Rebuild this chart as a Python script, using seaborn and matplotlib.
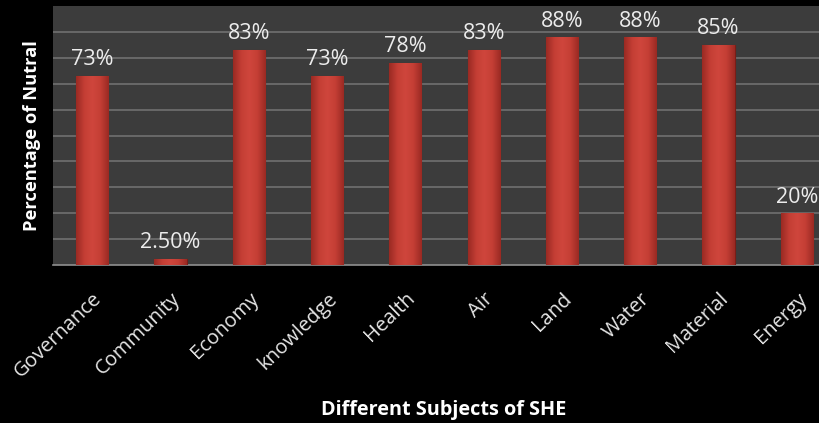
import numpy as np
import matplotlib.pyplot as plt
import seaborn as sns
import pandas as pd
from matplotlib.colors import LinearSegmentedColormap

subjects = ["Governance", "Community", "Economy", "knowledge", "Health",
            "Air", "Land", "Water", "Material", "Energy"]
percent = [73, 2.5, 83, 73, 78, 83, 88, 88, 85, 20]
bar_labels = ["73%", "2.50%", "83%", "73%", "78%", "83%", "88%", "88%", "85%", "20%"]

df = pd.DataFrame({"subject": subjects, "percent": percent})

sns.set_style("dark")
plt.rcParams['font.family'] = ['Open Sans', 'DejaVu Sans']

fig = plt.figure(figsize=(8.2, 4.23), dpi=100, facecolor="black")
ax = fig.add_axes([53/820, 158/423, 783/820, 259/423])
ax.set_facecolor("#3c3c3c")

sns.barplot(data=df, x="subject", y="percent", color="#c8423a", width=0.41,
            edgecolor="#7a1d17", linewidth=0.8, saturation=1, ax=ax, zorder=3)

# shading across each bar to mimic the bevelled look
shade = LinearSegmentedColormap.from_list(
    "shade", ["#9a2a23", "#c43e35", "#cf463c", "#c43e35", "#9a2a23"])
grad = np.linspace(0, 1, 64).reshape(1, -1)
for p in ax.patches:
    x0, y0, w, h = p.get_x(), p.get_y(), p.get_width(), p.get_height()
    im = ax.imshow(grad, cmap=shade, aspect="auto", zorder=4,
                   extent=(x0, x0 + w, y0, y0 + h))
    im.set_clip_path(p)

for i, (v, t) in enumerate(zip(percent, bar_labels)):
    ax.annotate(t, (i, v), xytext=(0, 4), textcoords="offset points",
                ha="center", va="bottom", color="#ececec", fontsize=15.5)

ax.set_ylim(0, 100)
ax.set_xlim(-0.5, 9.5)
ax.set_yticks(np.arange(10, 100, 10))
ax.yaxis.grid(True, color="#707070", linewidth=1.2)
ax.xaxis.grid(False)
ax.tick_params(axis="y", length=0, labelleft=False)
ax.set_xticks(np.arange(-0.5, 10, 1), minor=True)
ax.tick_params(axis="x", which="minor", length=5, color="#909090", width=1)
ax.tick_params(axis="x", which="major", length=0, pad=17, colors="#e6e6e6", labelsize=14.5)
for lab in ax.get_xticklabels():
    lab.set_rotation(44)
    lab.set_ha("right")
    lab.set_va("top")
    lab.set_rotation_mode("anchor")

for s in ["top", "right", "left"]:
    ax.spines[s].set_visible(False)
ax.spines["bottom"].set_color("#909090")
ax.spines["bottom"].set_linewidth(1.2)

ax.set_xlabel("")
ax.set_ylabel("")
fig.text(444/820, 1 - 410/423, "Different Subjects of SHE", ha="center", va="center",
         color="white", fontsize=14.3, fontweight="bold")
fig.text(32/820, 1 - 136/423, "Percentage of Nutral", ha="center", va="center",
         rotation=90, color="white", fontsize=13.2, fontweight="bold")

fig.savefig("out.png", dpi=100, facecolor="black")
